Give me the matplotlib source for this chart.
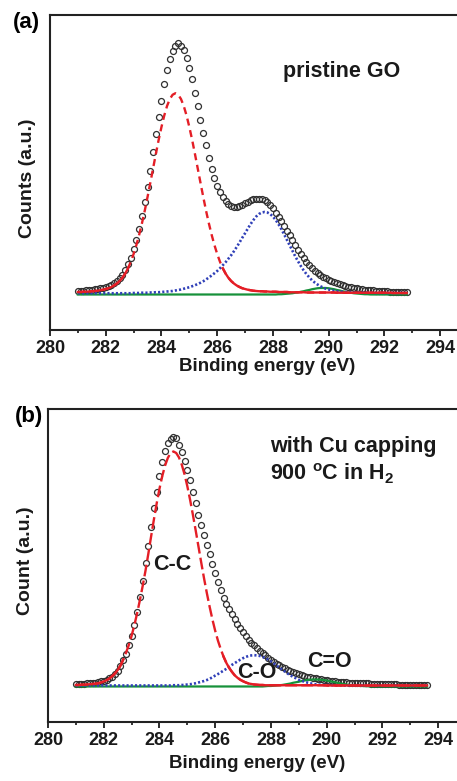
import numpy as np
import matplotlib
matplotlib.use('Agg')
import matplotlib.pyplot as plt
from matplotlib.ticker import MultipleLocator

plt.rcParams['font.family'] = ['Liberation Sans', 'DejaVu Sans']
plt.rcParams['font.weight'] = 'bold'
plt.rcParams['mathtext.fontset'] = 'custom'
plt.rcParams['mathtext.rm'] = 'Liberation Sans:bold'
plt.rcParams['mathtext.bf'] = 'Liberation Sans:bold'

# ---- panel (a): pristine GO, C1s, 281.0 .. 292.8 eV in 0.1 eV steps ----
energy_a = np.round(np.arange(281.0, 292.85, 0.1), 1)

counts_a = [0.010, 0.010, 0.011, 0.012, 0.013, 0.014, 0.016, 0.018, 0.020, 0.023,
            0.026, 0.030, 0.034, 0.041, 0.051, 0.061, 0.074, 0.092, 0.116, 0.142,
            0.176, 0.215, 0.257, 0.310, 0.366, 0.425, 0.488, 0.565, 0.638, 0.704,
            0.770, 0.838, 0.892, 0.936, 0.970, 0.990, 1.000, 0.990, 0.972, 0.942,
            0.902, 0.858, 0.802, 0.748, 0.694, 0.642, 0.592, 0.542, 0.497, 0.462,
            0.431, 0.405, 0.384, 0.368, 0.357, 0.350, 0.347, 0.347, 0.350, 0.355,
            0.361, 0.367, 0.372, 0.376, 0.378, 0.379, 0.377, 0.372, 0.364, 0.354,
            0.340, 0.323, 0.306, 0.288, 0.270, 0.251, 0.232, 0.213, 0.194, 0.174,
            0.156, 0.140, 0.125, 0.112, 0.100, 0.090, 0.081, 0.073, 0.066, 0.060,
            0.054, 0.049, 0.044, 0.040, 0.036, 0.033, 0.030, 0.027, 0.025, 0.023,
            0.021, 0.019, 0.017, 0.015, 0.014, 0.013, 0.012, 0.011, 0.010, 0.009,
            0.008, 0.008, 0.007, 0.007, 0.006, 0.006, 0.005, 0.005, 0.005]

cc_a = [0.005, 0.005, 0.006, 0.006, 0.007, 0.008, 0.009, 0.010, 0.012, 0.014,
        0.017, 0.020, 0.025, 0.031, 0.039, 0.049, 0.062, 0.079, 0.100, 0.126,
        0.157, 0.193, 0.234, 0.280, 0.330, 0.385, 0.442, 0.500, 0.558, 0.614,
        0.665, 0.711, 0.749, 0.777, 0.794, 0.800, 0.794, 0.777, 0.749, 0.711,
        0.665, 0.614, 0.558, 0.500, 0.442, 0.385, 0.330, 0.280, 0.234, 0.193,
        0.157, 0.126, 0.100, 0.079, 0.062, 0.049, 0.039, 0.031, 0.025, 0.020,
        0.017, 0.014, 0.012, 0.010, 0.009, 0.008, 0.008, 0.007, 0.007, 0.006,
        0.006, 0.006, 0.005, 0.005, 0.005, 0.005, 0.004, 0.004, 0.004, 0.004,
        0.004, 0.004, 0.003, 0.003, 0.003, 0.003, 0.003, 0.003, 0.003, 0.003,
        0.003, 0.003, 0.003, 0.002, 0.002, 0.002, 0.002, 0.002, 0.002, 0.002,
        0.002, 0.002, 0.002, 0.002, 0.002, 0.002, 0.002, 0.002, 0.002, 0.002,
        0.002, 0.002, 0.002, 0.001, 0.001, 0.001, 0.001, 0.001, 0.001]

co_a = [0.0] * 20 + \
       [0.001, 0.001, 0.001, 0.002, 0.002, 0.002, 0.003, 0.003, 0.004, 0.004,
        0.005, 0.006, 0.007, 0.008, 0.009, 0.011, 0.013, 0.015, 0.018, 0.021,
        0.024, 0.028, 0.032, 0.037, 0.042, 0.048, 0.055, 0.063, 0.071, 0.080,
        0.089, 0.100, 0.112, 0.124, 0.138, 0.152, 0.168, 0.185, 0.203, 0.222,
        0.240, 0.259, 0.277, 0.293, 0.307, 0.317, 0.323, 0.325, 0.323, 0.317,
        0.307, 0.293, 0.276, 0.257, 0.236, 0.214, 0.192, 0.170, 0.148, 0.128,
        0.109, 0.092, 0.077, 0.064, 0.052, 0.043, 0.035, 0.028, 0.023, 0.018,
        0.015, 0.012, 0.010, 0.008, 0.007, 0.006, 0.005, 0.004, 0.004, 0.003,
        0.003, 0.003, 0.002, 0.002, 0.002, 0.002, 0.002, 0.001, 0.001, 0.001,
        0.001, 0.001, 0.001, 0.001, 0.001, 0.001, 0.001, 0.001, 0.001]

c_o_a = [0.0] * 70 + \
        [0.000, 0.000, 0.001, 0.001, 0.002, 0.003, 0.004, 0.005, 0.007, 0.008,
         0.011, 0.013, 0.016, 0.018, 0.021, 0.023, 0.025, 0.026, 0.026, 0.026,
         0.025, 0.023, 0.021, 0.018, 0.016, 0.013, 0.011, 0.008, 0.007, 0.005,
         0.004, 0.003, 0.002, 0.001, 0.001, 0.000, 0.000, 0.000, 0.000, 0.000,
         0.000, 0.000, 0.000, 0.000, 0.000, 0.000, 0.000, 0.000, 0.000]
green_base_a = -0.005

# ---- panel (b): with Cu capping, 281.0 .. 293.6 eV ----
energy_b = np.round(np.arange(281.0, 293.65, 0.1), 1)

counts_b = [0.006, 0.006, 0.007, 0.007, 0.008, 0.009, 0.010, 0.012, 0.014, 0.017,
            0.020, 0.024, 0.029, 0.036, 0.046, 0.060, 0.078, 0.101, 0.128, 0.162,
            0.200, 0.243, 0.294, 0.356, 0.420, 0.492, 0.562, 0.636, 0.715, 0.778,
            0.842, 0.898, 0.943, 0.975, 0.992, 1.000, 0.996, 0.968, 0.940, 0.905,
            0.868, 0.827, 0.780, 0.733, 0.688, 0.647, 0.606, 0.567, 0.528, 0.490,
            0.452, 0.418, 0.385, 0.353, 0.330, 0.309, 0.288, 0.267, 0.248, 0.231,
            0.214, 0.199, 0.185, 0.173, 0.162, 0.151, 0.140, 0.130, 0.121, 0.112,
            0.103, 0.095, 0.088, 0.081, 0.075, 0.069, 0.064, 0.059, 0.054, 0.050,
            0.046, 0.042, 0.039, 0.036, 0.034, 0.031, 0.029, 0.027, 0.025, 0.023,
            0.021, 0.020, 0.018, 0.017, 0.016, 0.015, 0.014, 0.013, 0.012, 0.011,
            0.011, 0.010, 0.009, 0.009, 0.008, 0.008, 0.007, 0.007, 0.006, 0.006,
            0.006, 0.005, 0.005, 0.004, 0.004, 0.004, 0.003, 0.003, 0.003, 0.002,
            0.002, 0.002, 0.002, 0.001, 0.001, 0.001, 0.001]

cc_b = [0.002, 0.002, 0.003, 0.003, 0.004, 0.005, 0.006, 0.007, 0.009, 0.012,
        0.016, 0.021, 0.028, 0.037, 0.048, 0.062, 0.080, 0.104, 0.132, 0.163,
        0.200, 0.243, 0.292, 0.345, 0.402, 0.463, 0.530, 0.600, 0.668, 0.733,
        0.792, 0.843, 0.885, 0.916, 0.936, 0.942, 0.936, 0.918, 0.889, 0.850,
        0.802, 0.747, 0.687, 0.624, 0.559, 0.494, 0.431, 0.372, 0.317, 0.266,
        0.220, 0.180, 0.146, 0.116, 0.091, 0.071, 0.055, 0.041, 0.031, 0.023,
        0.017, 0.012, 0.008, 0.006, 0.004, 0.003, 0.002, 0.002, 0.001, 0.001] + \
       [0.001] * 20 + [0.0] * 37

co_b = [0.0] * 35 + \
       [0.001, 0.001, 0.001, 0.002, 0.002,
        0.004, 0.005, 0.007, 0.009, 0.012, 0.015, 0.018, 0.022, 0.027, 0.033,
        0.040, 0.046, 0.053, 0.060, 0.067, 0.075, 0.083, 0.090, 0.097, 0.104,
        0.110, 0.115, 0.119, 0.121, 0.122, 0.121, 0.119, 0.115, 0.110, 0.104,
        0.097, 0.089, 0.081, 0.072, 0.064, 0.056, 0.048, 0.041, 0.034, 0.029,
        0.023, 0.019, 0.015, 0.012, 0.009, 0.007, 0.005, 0.004, 0.003, 0.002,
        0.002, 0.001, 0.001] + [0.0] * 34

c_o_b = [0.0] * 68 + \
        [0.001, 0.002,
         0.002, 0.003, 0.004, 0.005, 0.006, 0.008, 0.010, 0.012, 0.015, 0.017,
         0.019, 0.022, 0.024, 0.026, 0.027, 0.028, 0.028, 0.028, 0.027, 0.026,
         0.024, 0.022, 0.019, 0.017, 0.015, 0.012, 0.010, 0.008, 0.006, 0.005,
         0.004, 0.003, 0.002, 0.002, 0.001, 0.001] + [0.0] * 21
green_base_b = -0.004

RED = '#e41e26'
BLUE = '#3040b8'
GREEN = '#16913a'


def draw_panel(ax, x, counts, cc, co, c_o, green_base, red_dash, red_thr):
    counts, cc, co, c_o = map(np.asarray, (counts, cc, co, c_o))
    ax.plot(x, counts, 'o', ms=4.3, mfc='none', mec='#303030', mew=0.9, zorder=2)
    ax.plot(x, c_o + green_base, '-', color=GREEN, lw=1.6, zorder=3)
    ax.plot(x, co, color=BLUE, lw=1.9, ls=(0, (0.8, 0.8)), zorder=4)
    ax.plot(x, cc, color=RED, lw=1.7, ls=red_dash, zorder=5)
    # the fit line looks solid where it runs flat
    ax.plot(x, np.where(cc < red_thr, cc, np.nan), '-', color=RED, lw=1.7, zorder=5)

    ax.set_xlim(280, 295)
    ax.set_ylim(-0.147, 1.113)
    ax.xaxis.set_major_locator(MultipleLocator(2))
    ax.xaxis.set_minor_locator(MultipleLocator(1))
    ax.set_yticks([])
    ax.tick_params(axis='x', which='major', direction='out', length=4.5, width=1.3,
                   pad=3, labelsize=13, colors='#1a1a1a')
    ax.tick_params(axis='x', which='minor', direction='out', length=2.5, width=1.1)
    for lbl in ax.get_xticklabels():
        lbl.set_fontweight('bold')
    for sp in ax.spines.values():
        sp.set_linewidth(1.5)
        sp.set_color('#222222')
    ax.set_xlabel('Binding energy (eV)', fontsize=13.5, fontweight='bold', color='#1a1a1a')


fig = plt.figure(figsize=(4.57, 7.81), dpi=100)
ax1 = fig.add_axes([50 / 457, 451 / 781, 418 / 457, 315 / 781])
ax2 = fig.add_axes([48 / 457, 59 / 781, 418 / 457, 313 / 781])

draw_panel(ax1, energy_a, counts_a, cc_a, co_a, c_o_a, green_base_a, (0, (3, 2)), 0.11)
draw_panel(ax2, energy_b, counts_b, cc_b, co_b, c_o_b, green_base_b, (0, (5, 1.8)), 0.12)

ax1.set_ylabel('Counts (a.u.)', fontsize=14, fontweight='bold', color='#1a1a1a')
ax2.set_ylabel('Count (a.u.)', fontsize=14, fontweight='bold', color='#1a1a1a')
ax1.yaxis.set_label_coords(-0.033, 0.483)
ax2.yaxis.set_label_coords(-0.033, 0.514)
ax1.xaxis.set_label_coords(0.52, -0.090)
ax2.xaxis.set_label_coords(0.50, -0.107)

ax1.text(0.557, 0.802, 'pristine GO', transform=ax1.transAxes, fontsize=15.5,
         fontweight='bold', va='baseline', color='#1a1a1a')
ax2.text(0.531, 0.864, 'with Cu capping', transform=ax2.transAxes, fontsize=15.5,
         fontweight='bold', va='baseline', color='#1a1a1a')
ax2.text(0.531, 0.773, r'900 $^{\mathbf{o}}$C in H$_{\mathbf{2}}$', transform=ax2.transAxes,
         fontsize=15.5, fontweight='bold', va='baseline', color='#1a1a1a')
ax2.text(0.251, 0.486, 'C-C', transform=ax2.transAxes, fontsize=15.5,
         fontweight='bold', va='baseline', color='#1a1a1a', zorder=6)
ax2.text(0.452, 0.140, 'C-O', transform=ax2.transAxes, fontsize=15.5,
         fontweight='bold', va='baseline', color='#1a1a1a', zorder=6)
ax2.text(0.620, 0.177, 'C=O', transform=ax2.transAxes, fontsize=15.5,
         fontweight='bold', va='baseline', color='#1a1a1a', zorder=6)

fig.text(13 / 457, 1 - 28 / 781, '(a)', fontsize=16, fontweight='bold', va='baseline')
fig.text(15 / 457, 1 - 422 / 781, '(b)', fontsize=16, fontweight='bold', va='baseline')

fig.savefig('out.png', dpi=100)
